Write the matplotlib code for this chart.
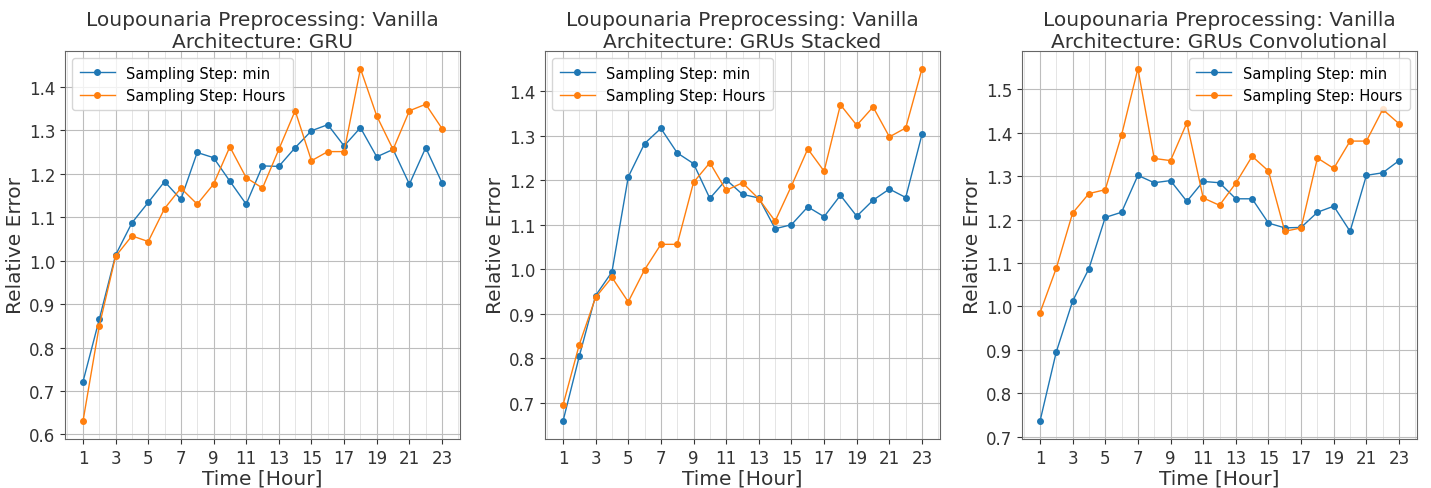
import matplotlib
matplotlib.use("Agg")
import matplotlib.pyplot as plt
from matplotlib.ticker import MultipleLocator

hours = list(range(1, 24))

titles = ["Loupounaria Preprocessing: Vanilla\nArchitecture: GRU",
          "Loupounaria Preprocessing: Vanilla\nArchitecture: GRUs Stacked",
          "Loupounaria Preprocessing: Vanilla\nArchitecture: GRUs Convolutional"]

gru_min = [0.721, 0.865, 1.013, 1.087, 1.134, 1.182, 1.141, 1.249, 1.237, 1.183,
           1.130, 1.218, 1.217, 1.260, 1.299, 1.313, 1.264, 1.306, 1.239, 1.256,
           1.176, 1.260, 1.179]
gru_hours = [0.630, 0.850, 1.010, 1.057, 1.044, 1.120, 1.167, 1.130, 1.176, 1.262,
             1.191, 1.167, 1.256, 1.345, 1.230, 1.251, 1.251, 1.442, 1.333, 1.256,
             1.345, 1.360, 1.304]

stacked_min = [0.659, 0.805, 0.941, 0.994, 1.207, 1.282, 1.316, 1.261, 1.237, 1.159,
               1.201, 1.168, 1.160, 1.091, 1.100, 1.140, 1.118, 1.166, 1.119, 1.155,
               1.180, 1.161, 1.303]
stacked_hours = [0.695, 0.831, 0.937, 0.982, 0.927, 0.999, 1.056, 1.056, 1.195, 1.239,
                 1.177, 1.194, 1.158, 1.108, 1.187, 1.270, 1.220, 1.369, 1.323, 1.364,
                 1.297, 1.317, 1.450]

conv_min = [0.735, 0.895, 1.012, 1.087, 1.205, 1.217, 1.302, 1.285, 1.290, 1.242,
            1.288, 1.285, 1.248, 1.248, 1.192, 1.181, 1.182, 1.217, 1.231, 1.173,
            1.302, 1.308, 1.336]
conv_hours = [0.985, 1.088, 1.215, 1.260, 1.269, 1.395, 1.548, 1.341, 1.336, 1.423,
              1.250, 1.233, 1.284, 1.346, 1.312, 1.173, 1.181, 1.342, 1.318, 1.381,
              1.381, 1.454, 1.421]

series = [(gru_min, gru_hours), (stacked_min, stacked_hours), (conv_min, conv_hours)]
legend_locs = ["upper left", "upper left", "upper right"]
labels = ["Sampling Step: min", "Sampling Step: Hours"]
xticks = list(range(1, 24, 2))

fig = plt.figure(figsize=(14.31, 4.89), dpi=100)
lefts = [65 / 1431, 545 / 1431, 1022 / 1431]
width = 395 / 1431
bottom = 1 - 440 / 489
height = (440 - 52) / 489

for i in range(3):
    ax = fig.add_axes([lefts[i], bottom, width, height])
    mn, hr = series[i]
    ax.plot(hours, mn, marker="o", markersize=4, linewidth=1, color="#1f77b4", label=labels[0])
    ax.plot(hours, hr, marker="o", markersize=4, linewidth=1, color="#ff7f0e", label=labels[1])
    ax.set_xticks(xticks)
    ax.xaxis.set_minor_locator(MultipleLocator(1))
    ax.grid(True, which="major", color="#bdbdbd", linewidth=0.8)
    ax.grid(True, which="minor", axis="x", color="#e0e0e0", linewidth=0.6)
    ax.tick_params(which="minor", length=0)
    ax.tick_params(labelsize=12, colors="#333333")
    for s in ax.spines.values():
        s.set_color("#666666")
    ax.set_title(titles[i], fontsize=14.5, color="#333333", pad=3, linespacing=1.2)
    ax.set_xlabel("Time [Hour]", fontsize=14.5, color="#333333", labelpad=1)
    ax.set_ylabel("Relative Error", fontsize=14.5, color="#333333", labelpad=3)
    ax.legend(loc=legend_locs[i], fontsize=10.5, handlelength=2.4, borderpad=0.5)

fig.savefig("out.png", dpi=100)
